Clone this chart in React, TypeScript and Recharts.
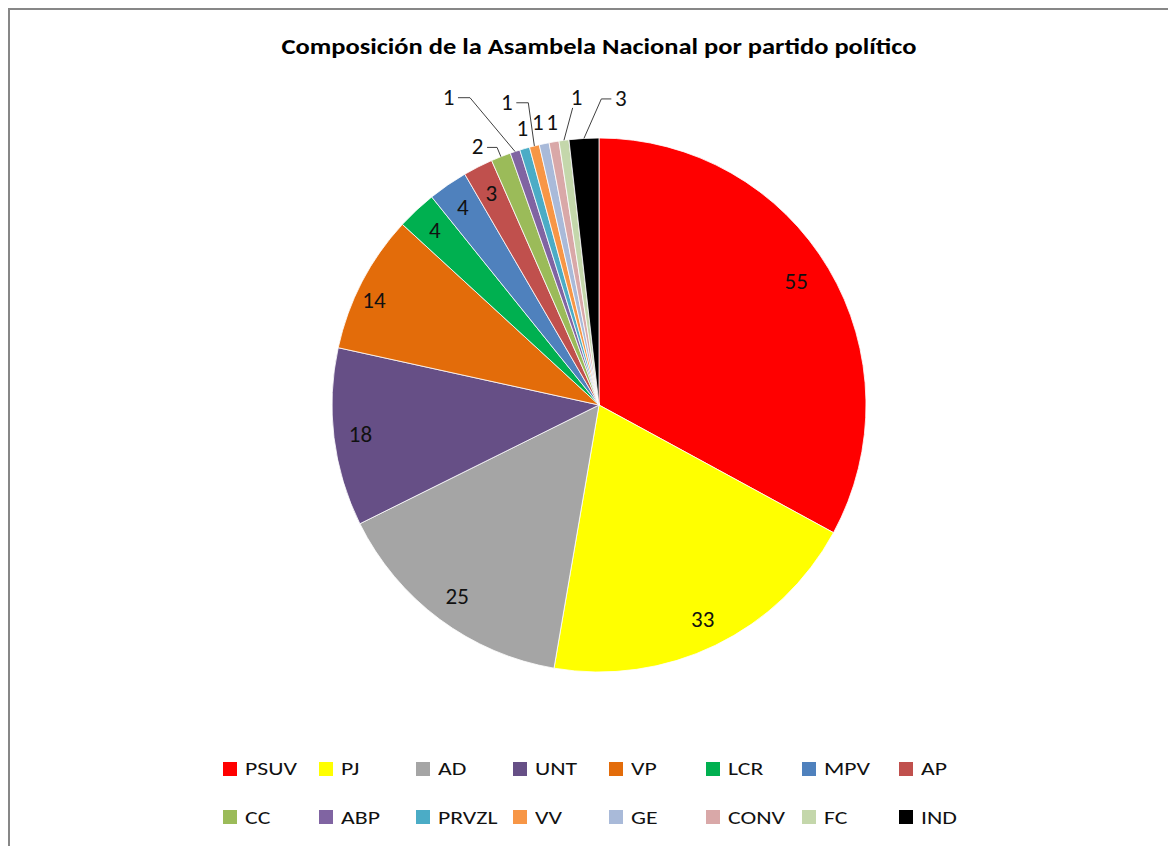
import React from "react";
import { PieChart, Pie, Cell, Legend } from "recharts";

const parties = ["PSUV", "PJ", "AD", "UNT", "VP", "LCR", "MPV", "AP", "CC", "ABP", "PRVZL", "VV", "GE", "CONV", "FC", "IND"];
const seats = [55, 33, 25, 18, 14, 4, 4, 3, 2, 1, 1, 1, 1, 1, 1, 3];
const colors = ["#FF0000", "#FFFF00", "#A5A5A5", "#664F86", "#E36C0A", "#00B050", "#4F81BD", "#C0504D", "#9BBB59", "#8064A2", "#4BACC6", "#F79646", "#A9BAD9", "#D9A8A8", "#C4D7AB", "#000000"];
const title = "Composición de la Asambela Nacional por partido político";

// label placement: angular shift (deg) from slice middle, radius factor, leader line elbow length (-1 = no line)
const labelShift = [-1.5, 0, 0, 0, -2.5, 0, 0, 0, -3.6, -7.7, 0.7, -2.9, -0.3, 0.3, 3.4, 7.3];
const labelRadius = [0.873, 0.89, 0.89, 0.9, 0.93, 0.9, 0.9, 0.89, 1.07, 1.285, 1.077, 1.187, 1.086, 1.075, 1.157, 1.153];
const labelElbow = [-1, -1, -1, -1, -1, -1, -1, -1, 10, 12, -1, 12, -1, -1, 0, 10];

const data = parties.map((name, i) => ({ name, value: seats[i] }));

const FONT = "Calibri, Carlito, Lato, 'Noto Sans', sans-serif";
const RAD = Math.PI / 180;

const renderLabel = (props: any) => {
  const { cx, cy, midAngle, outerRadius, index, value } = props;
  const theta = 90 - midAngle;
  const a = (theta + labelShift[index]) * RAD;
  const r = outerRadius * labelRadius[index];
  const lx = cx + r * Math.sin(a);
  const ly = cy - r * Math.cos(a);
  const elbow = labelElbow[index];
  let line = null;
  if (elbow >= 0) {
    const ex = cx + outerRadius * Math.sin(theta * RAD);
    const ey = cy - outerRadius * Math.cos(theta * RAD);
    const hw = 6.5 * String(value).length;
    let pts: number[][];
    if (elbow === 0) {
      pts = [[lx - 4, ly + 11], [ex, ey]];
    } else {
      const s = lx < ex ? 1 : -1;
      const x0 = lx + s * (hw + 3);
      const y0 = ly + 1;
      pts = [[x0, y0], [x0 + s * elbow, y0], [ex, ey]];
    }
    line = (
      <polyline
        points={pts.map((p) => p.join(",")).join(" ")}
        fill="none"
        stroke="#404040"
        strokeWidth={1}
      />
    );
  }
  return (
    <g key={`lbl-${index}`}>
      {line}
      <text
        x={lx}
        y={ly}
        textAnchor="middle"
        dominantBaseline="central"
        fontFamily={FONT}
        fontSize={23}
        fill="#111"
      >
        {value}
      </text>
    </g>
  );
};

const renderLegend = () => (
  <div style={{ position: "relative", width: 1176, height: 846, pointerEvents: "none" }}>
    {parties.map((p, i) => {
      const col = i % 8;
      const row = Math.floor(i / 8);
      const left = 212.7 + col * 96.6;
      const top = 758.5 + row * 48.5;
      return (
        <div
          key={p}
          style={{
            position: "absolute",
            left,
            top: top - 12,
            height: 24,
            display: "flex",
            alignItems: "center",
            fontFamily: FONT,
            fontSize: 19,
            color: "#111",
            whiteSpace: "nowrap",
          }}
        >
          <span style={{ display: "inline-block", width: 14, height: 14, background: colors[i], marginRight: 8 }} />
          <span style={{ display: "inline-block", transform: "scaleX(1.25)", transformOrigin: "left center" }}>{p}</span>
        </div>
      );
    })}
  </div>
);

export default function App() {
  return (
    <div
      style={{
        position: "relative",
        width: 1200,
        height: 880,
        borderTop: "2px solid #878787",
        borderLeft: "2px solid #878787",
        background: "#fff",
      }}
    >
      <div
        style={{
          position: "absolute",
          left: 0,
          top: 23,
          width: 1178,
          textAlign: "center",
          fontFamily: FONT,
          fontWeight: "bold",
          fontSize: 21.7,
          lineHeight: "27px",
          color: "#000",
          transform: "scaleX(1.22)",
          transformOrigin: "589px center",
        }}
      >
        {title}
      </div>
      <PieChart width={1176} height={846} margin={{ top: 0, right: 0, bottom: 0, left: 0 }}>
        <Pie
          data={data}
          dataKey="value"
          nameKey="name"
          cx={589}
          cy={395}
          outerRadius={267}
          startAngle={90}
          endAngle={-270}
          stroke="#ffffff"
          strokeWidth={0.8}
          label={renderLabel}
          labelLine={false}
          isAnimationActive={false}
        >
          {data.map((d, i) => (
            <Cell key={d.name} fill={colors[i]} />
          ))}
        </Pie>
        <Legend
          content={renderLegend}
          wrapperStyle={{ position: "absolute", left: 0, top: 0, width: 1176, height: 846, pointerEvents: "none" }}
        />
      </PieChart>
    </div>
  );
}
